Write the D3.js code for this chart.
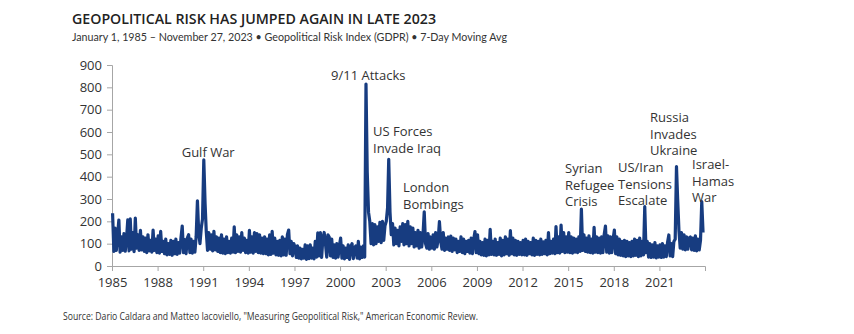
<!DOCTYPE html>
<html>
<head>
<meta charset="utf-8">
<title>Geopolitical Risk</title>
<style>
body { margin: 0; background: #fff; }
svg text { font-family: "Open Sans", sans-serif; fill: #333; }
.title { font-family: "Open Sans", sans-serif; font-weight: 600; fill: #222; }
.sub { font-family: Lato, sans-serif; fill: #333; }
.axis path, .axis line { stroke: #a6a6a6; }
.axis text { font-size: 13px; fill: #333; }
.note { font-size: 13px; fill: #3a3a3a; }
</style>
</head>
<body>
<svg width="854" height="334"></svg>
<script src="https://cdn.jsdelivr.net/npm/d3@7"></script>
<script>

// GPR index, one reading per month from Jan 1985, grouped by year
var gpr = [
  [236, 65, 170, 70, 140, 206, 62, 130, 70, 145, 66, 120],
  [207, 68, 211, 75, 150, 64, 215, 80, 140, 70, 160, 72],
  [130, 65, 125, 60, 140, 68, 115, 62, 161, 70, 120, 60],
  [135, 58, 155, 65, 110, 55, 120, 50, 100, 52, 115, 48],
  [110, 55, 120, 52, 105, 58, 125, 179, 60, 118, 55, 125],
  [140, 60, 120, 58, 110, 62, 130, 292, 150, 100, 170, 210],
  [475, 280, 155, 70, 150, 75, 140, 68, 155, 72, 130, 65],
  [125, 60, 140, 58, 120, 55, 130, 60, 110, 58, 125, 62],
  [175, 60, 140, 65, 130, 62, 150, 70, 125, 60, 115, 58],
  [160, 62, 130, 58, 150, 65, 145, 60, 140, 58, 125, 55],
  [130, 55, 120, 50, 140, 52, 155, 58, 125, 50, 110, 48],
  [115, 45, 130, 50, 120, 48, 140, 161, 55, 110, 45, 100],
  [85, 38, 90, 35, 80, 32, 75, 35, 95, 30, 90, 33],
  [95, 35, 80, 32, 110, 40, 148, 45, 150, 38, 125, 150],
  [100, 40, 140, 130, 45, 120, 38, 95, 35, 100, 40, 90],
  [125, 35, 90, 32, 80, 38, 95, 30, 85, 100, 33, 80],
  [90, 35, 110, 32, 85, 38, 90, 40, 815, 420, 240, 200],
  [100, 190, 95, 185, 100, 175, 110, 195, 105, 200, 115, 180],
  [200, 260, 478, 240, 140, 190, 95, 170, 100, 160, 90, 175],
  [110, 190, 95, 185, 100, 200, 90, 175, 100, 170, 85, 150],
  [90, 160, 80, 150, 85, 140, 243, 100, 80, 145, 75, 130],
  [80, 140, 75, 150, 85, 120, 199, 110, 75, 150, 70, 125],
  [75, 130, 70, 134, 65, 125, 72, 120, 60, 110, 65, 130],
  [60, 120, 55, 110, 65, 115, 58, 125, 55, 120, 154, 60],
  [140, 55, 110, 50, 105, 48, 120, 45, 115, 50, 164, 52],
  [110, 50, 120, 48, 105, 52, 125, 45, 115, 50, 130, 55],
  [120, 48, 158, 55, 125, 50, 115, 48, 110, 52, 105, 50],
  [115, 50, 120, 48, 110, 55, 105, 50, 125, 48, 115, 52],
  [110, 50, 120, 52, 108, 55, 115, 50, 150, 55, 110, 58],
  [120, 55, 176, 60, 130, 58, 183, 65, 150, 60, 130, 62],
  [150, 60, 131, 58, 125, 62, 120, 60, 130, 65, 255, 70],
  [140, 65, 125, 62, 135, 60, 120, 58, 173, 62, 130, 60],
  [125, 58, 130, 60, 140, 179, 62, 135, 58, 130, 60, 120],
  [161, 55, 130, 50, 120, 48, 110, 45, 115, 42, 110, 45],
  [105, 42, 110, 45, 120, 48, 115, 42, 125, 45, 110, 50],
  [266, 60, 110, 40, 100, 38, 95, 40, 105, 36, 90, 40],
  [95, 38, 100, 40, 90, 42, 105, 139, 45, 100, 42, 110],
  [120, 445, 300, 160, 80, 150, 75, 140, 72, 130, 75, 125],
  [130, 72, 125, 70, 135, 68, 120, 72, 115, 288, 150]
];

var yTicks = [0, 100, 200, 300, 400, 500, 600, 700, 800, 900];
var xTickYears = [1985, 1988, 1991, 1994, 1997, 2000, 2003, 2006, 2009, 2012, 2015, 2018, 2021];

// event labels: text lines, left edge and first baseline
var events = [
  { lines: ["Gulf War"], x: 181.7, y: 157 },
  { lines: ["9/11 Attacks"], x: 331, y: 80 },
  { lines: ["US Forces", "Invade Iraq"], x: 373, y: 136 },
  { lines: ["London", "Bombings"], x: 403, y: 192 },
  { lines: ["Syrian", "Refugee", "Crisis"], x: 565, y: 173 },
  { lines: ["US/Iran", "Tensions", "Escalate"], x: 618, y: 172 },
  { lines: ["Russia", "Invades", "Ukraine"], x: 650, y: 122 },
  { lines: ["Israel-", "Hamas", "War"], x: 692, y: 169 }
];

var series = [];
gpr.forEach(function(year, yi) {
  year.forEach(function(v, m) {
    series.push({ date: new Date(1985 + yi, m, 15), value: v });
  });
});

var svg = d3.select("svg");

var x = d3.scaleTime()
    .domain([new Date(1985, 0, 1), new Date(2024, 0, 1)])
    .range([112, 705]);

var y = d3.scaleLinear()
    .domain([0, 900])
    .range([266, 65]);

svg.append("text")
    .attr("class", "title")
    .attr("x", 72).attr("y", 24)
    .attr("font-size", 15)
    .attr("textLength", 364).attr("lengthAdjust", "spacingAndGlyphs")
    .text("GEOPOLITICAL RISK HAS JUMPED AGAIN IN LATE 2023");

svg.append("text")
    .attr("class", "sub")
    .attr("x", 72).attr("y", 41)
    .attr("font-size", 11.5)
    .attr("textLength", 435).attr("lengthAdjust", "spacingAndGlyphs")
    .text("January 1, 1985 \u2013 November 27, 2023 \u2022 Geopolitical Risk Index (GDPR) \u2022 7-Day Moving Avg");

svg.append("g")
    .attr("class", "axis")
    .attr("transform", "translate(0,266)")
    .call(d3.axisBottom(x)
        .tickValues(xTickYears.map(function(yr) { return new Date(yr, 0, 1); }))
        .tickFormat(d3.timeFormat("%Y"))
        .tickSizeOuter(0)
        .tickSize(5)
        .tickPadding(7));

svg.append("g")
    .attr("class", "axis")
    .attr("transform", "translate(112,0)")
    .call(d3.axisLeft(y)
        .tickValues(yTicks)
        .tickSizeOuter(0)
        .tickSize(5)
        .tickPadding(5));

var line = d3.line()
    .x(function(d) { return x(d.date); })
    .y(function(d) { return y(d.value); });

svg.append("path")
    .datum(series)
    .attr("fill", "none")
    .attr("stroke", "#173c80")
    .attr("stroke-width", 3.2)
    .attr("stroke-linejoin", "round")
    .attr("d", line);

var notes = svg.append("g").attr("class", "note");
events.forEach(function(e) {
  var t = notes.append("text").attr("x", e.x).attr("y", e.y);
  e.lines.forEach(function(s, i) {
    t.append("tspan").attr("x", e.x).attr("dy", i ? 16.5 : 0).text(s);
  });
});

svg.append("text")
    .attr("x", 63).attr("y", 320)
    .attr("font-size", 10)
    .attr("textLength", 415).attr("lengthAdjust", "spacingAndGlyphs")
    .text("Source: Dario Caldara and Matteo Iacoviello, \"Measuring Geopolitical Risk,\" American Economic Review.");

</script>
</body>
</html>
